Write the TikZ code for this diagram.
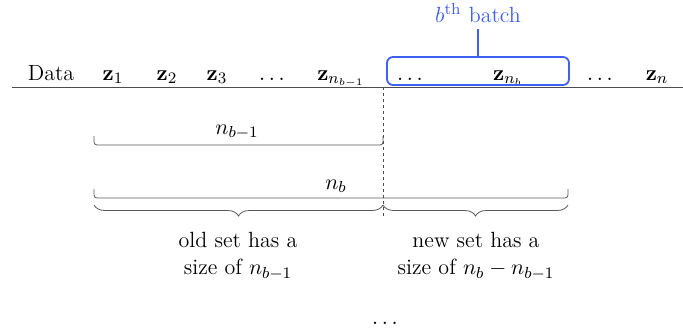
\documentclass[tikz,border=0pt]{standalone}
\usetikzlibrary{decorations.pathreplacing}
\definecolor{batchblue}{RGB}{65,95,240}
\tikzset{
  item/.style={anchor=base},
  span/.style={draw=black!65,rounded corners=1.5pt},
  setbrace/.style={draw=black!65,decorate,decoration={brace,amplitude=5.5pt}},
  batchbox/.style={draw=batchblue,line width=0.9pt,rounded corners=3pt,minimum width=91pt,minimum height=14pt},
}
\begin{document}
\begin{tikzpicture}[x=0.5pt,y=0.5pt,font=\fontsize{11}{13.5}\selectfont]
    \useasboundingbox (0,0) rectangle (683,-332);
    % data row
    \node[item] (data) at (51,-80) {Data};
    \node[item] (z1) at (113,-80) {$\mathbf{z}_1$};
    \node[item] (z2) at (167,-80) {$\mathbf{z}_2$};
    \node[item] (z3) at (217,-80) {$\mathbf{z}_3$};
    \node[item] (dotsa) at (272,-80) {$\dots$};
    \node[item] (zold) at (341,-80) {$\mathbf{z}_{n_{b-1}}$};
    \node[item] (dotsb) at (410,-80) {$\dots$};
    \node[item] (znew) at (508,-80) {$\mathbf{z}_{n_b}$};
    \node[item] (dotsc) at (600,-80) {$\dots$};
    \node[item] (zn) at (657,-80) {$\mathbf{z}_n$};
    \draw[black!70] (12,-87) -- (683,-87);
    % the b-th batch
    \node[batchbox] (batch) at (478,-71) {};
    \node[item,text=batchblue] (batchlbl) at (478,-22) {$b^{\mathrm{th}}$ batch};
    \draw[batchblue,line width=0.8pt] (batch.north) -- (batch.north |- batchlbl.south);
    % split between old and new set
    \draw[dashed,black!70,dash pattern=on 1.5pt off 1.5pt] (383,-87) -- (383,-217);
    \draw[span] (94,-136) -- (94,-145) -- (383,-145) -- (383,-136);
    \node[item] (nold) at (237,-134) {$n_{b-1}$};
    \draw[span] (94,-189) -- (94,-198) -- (568,-198) -- (568,-189);
    \node[item] (nnew) at (336,-189) {$n_b$};
    \draw[setbrace] (383,-205) -- (94,-205);
    \draw[setbrace] (568,-205) -- (383,-205);
    \node[align=center] (oldset) at (238,-256) {old set has a\\size of $n_{b-1}$};
    \node[align=center] (newset) at (476,-256) {new set has a\\size of $n_b-n_{b-1}$};
    \node[item] (more) at (385,-324) {$\dots$};
\end{tikzpicture}
\end{document}
